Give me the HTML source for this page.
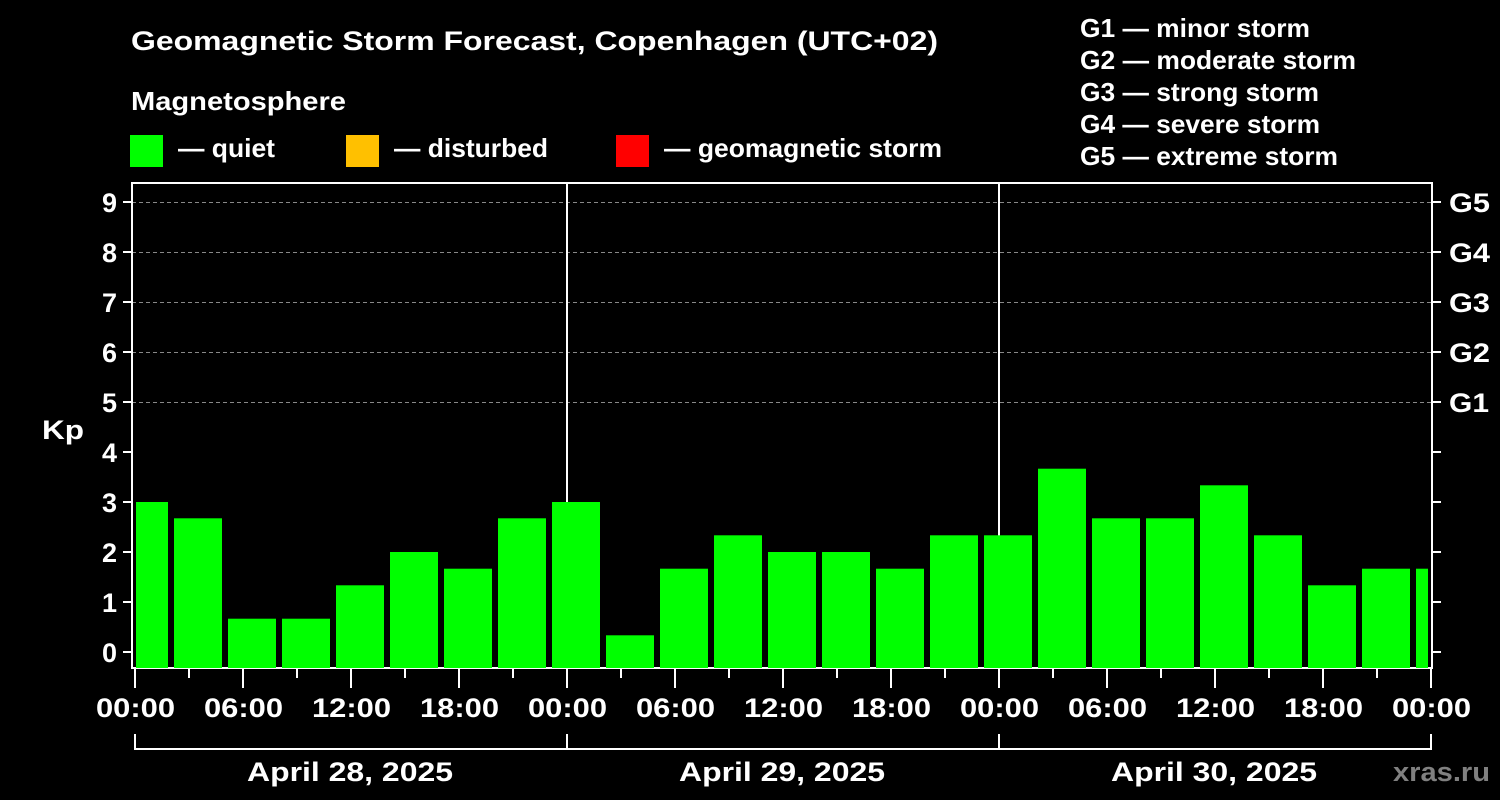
<!DOCTYPE html>
<html><head><meta charset="utf-8"><style>body{margin:0;background:#000}svg{display:block}text{font-family:"Liberation Sans",Arial,sans-serif;font-weight:bold;fill:#fff}</style></head><body>
<svg width="1500" height="800" xmlns="http://www.w3.org/2000/svg">
<rect width="1500" height="800" fill="#000"/>
<text x="131" y="50" font-size="27" textLength="807" lengthAdjust="spacingAndGlyphs">Geomagnetic Storm Forecast, Copenhagen (UTC+02)</text>
<text x="131" y="110" font-size="26" textLength="215" lengthAdjust="spacingAndGlyphs">Magnetosphere</text>
<rect x="130" y="135" width="33" height="32" fill="#00ff00"/>
<text x="178" y="157" font-size="26" textLength="97" lengthAdjust="spacingAndGlyphs">— quiet</text>
<rect x="346" y="135" width="33" height="32" fill="#ffc000"/>
<text x="394" y="157" font-size="26" textLength="154" lengthAdjust="spacingAndGlyphs">— disturbed</text>
<rect x="616" y="135" width="33" height="32" fill="#ff0000"/>
<text x="664" y="157" font-size="26" textLength="278" lengthAdjust="spacingAndGlyphs">— geomagnetic storm</text>
<g font-size="26">
<text x="1080" y="37" textLength="230" lengthAdjust="spacingAndGlyphs">G1 — minor storm</text>
<text x="1080" y="69" textLength="276" lengthAdjust="spacingAndGlyphs">G2 — moderate storm</text>
<text x="1080" y="101" textLength="239" lengthAdjust="spacingAndGlyphs">G3 — strong storm</text>
<text x="1080" y="133" textLength="240" lengthAdjust="spacingAndGlyphs">G4 — severe storm</text>
<text x="1080" y="165" textLength="258" lengthAdjust="spacingAndGlyphs">G5 — extreme storm</text>
</g>
<g stroke="#888" stroke-dasharray="4,3" stroke-width="1">
<line x1="132" x2="1432" y1="202.5" y2="202.5"/><line x1="132" x2="1432" y1="252.5" y2="252.5"/><line x1="132" x2="1432" y1="302.5" y2="302.5"/><line x1="132" x2="1432" y1="352.5" y2="352.5"/><line x1="132" x2="1432" y1="402.5" y2="402.5"/>
</g>
<g stroke="#fff" stroke-width="2" fill="none">
<rect x="132" y="183" width="1300" height="485"/>
<line x1="567" y1="183" x2="567" y2="668"/><line x1="999" y1="183" x2="999" y2="668"/>
<path d="M123 652h9M123 602h9M123 552h9M123 502h9M123 452h9M123 402h9M123 352h9M123 302h9M123 252h9M123 202h9"/>
<path d="M1432 652h9M1432 602h9M1432 552h9M1432 502h9M1432 452h9M1432 402h9M1432 352h9M1432 302h9M1432 252h9M1432 202h9"/>
<path d="M135 668v20M189 668v10M243 668v20M297 668v10M351 668v20M405 668v10M459 668v20M513 668v10M567 668v20M621 668v10M675 668v20M729 668v10M783 668v20M837 668v10M891 668v20M945 668v10M999 668v20M1053 668v10M1107 668v20M1161 668v10M1215 668v20M1269 668v10M1323 668v20M1377 668v10M1431 668v20"/>
<path d="M135 734v15h1296v-15M567 734v15M999 734v15"/>
</g>
<g fill="#00ff00">
<rect x="136" y="502" width="32" height="166"/>
<rect x="174" y="518.3" width="48" height="149.7"/>
<rect x="228" y="618.7" width="48" height="49.3"/>
<rect x="282" y="618.7" width="48" height="49.3"/>
<rect x="336" y="585.3" width="48" height="82.7"/>
<rect x="390" y="552" width="48" height="116"/>
<rect x="444" y="568.7" width="48" height="99.3"/>
<rect x="498" y="518.3" width="48" height="149.7"/>
<rect x="552" y="502" width="48" height="166"/>
<rect x="606" y="635.3" width="48" height="32.7"/>
<rect x="660" y="568.7" width="48" height="99.3"/>
<rect x="714" y="535.3" width="48" height="132.7"/>
<rect x="768" y="552" width="48" height="116"/>
<rect x="822" y="552" width="48" height="116"/>
<rect x="876" y="568.7" width="48" height="99.3"/>
<rect x="930" y="535.3" width="48" height="132.7"/>
<rect x="984" y="535.3" width="48" height="132.7"/>
<rect x="1038" y="468.7" width="48" height="199.3"/>
<rect x="1092" y="518.3" width="48" height="149.7"/>
<rect x="1146" y="518.3" width="48" height="149.7"/>
<rect x="1200" y="485.3" width="48" height="182.7"/>
<rect x="1254" y="535.3" width="48" height="132.7"/>
<rect x="1308" y="585.3" width="48" height="82.7"/>
<rect x="1362" y="568.7" width="48" height="99.3"/>
<rect x="1416" y="568.7" width="12" height="99.3"/>
</g>
<g font-size="27" text-anchor="end">
<text x="117" y="662">0</text><text x="117" y="612">1</text><text x="117" y="562">2</text><text x="117" y="512">3</text><text x="117" y="462">4</text><text x="117" y="412">5</text><text x="117" y="362">6</text><text x="117" y="312">7</text><text x="117" y="262">8</text><text x="117" y="212">9</text>
</g>
<text x="42" y="439" font-size="27" textLength="42" lengthAdjust="spacingAndGlyphs">Kp</text>
<g font-size="27">
<text x="1449" y="412" textLength="40" lengthAdjust="spacingAndGlyphs">G1</text><text x="1449" y="362" textLength="41" lengthAdjust="spacingAndGlyphs">G2</text><text x="1449" y="312" textLength="41" lengthAdjust="spacingAndGlyphs">G3</text><text x="1449" y="262" textLength="41" lengthAdjust="spacingAndGlyphs">G4</text><text x="1449" y="212" textLength="41" lengthAdjust="spacingAndGlyphs">G5</text>
</g>
<g font-size="27">
<text x="96" y="717" textLength="79" lengthAdjust="spacingAndGlyphs">00:00</text><text x="204" y="717" textLength="79" lengthAdjust="spacingAndGlyphs">06:00</text><text x="312" y="717" textLength="79" lengthAdjust="spacingAndGlyphs">12:00</text><text x="420" y="717" textLength="79" lengthAdjust="spacingAndGlyphs">18:00</text><text x="528" y="717" textLength="79" lengthAdjust="spacingAndGlyphs">00:00</text><text x="636" y="717" textLength="79" lengthAdjust="spacingAndGlyphs">06:00</text><text x="744" y="717" textLength="79" lengthAdjust="spacingAndGlyphs">12:00</text><text x="852" y="717" textLength="79" lengthAdjust="spacingAndGlyphs">18:00</text><text x="960" y="717" textLength="79" lengthAdjust="spacingAndGlyphs">00:00</text><text x="1068" y="717" textLength="79" lengthAdjust="spacingAndGlyphs">06:00</text><text x="1176" y="717" textLength="79" lengthAdjust="spacingAndGlyphs">12:00</text><text x="1284" y="717" textLength="79" lengthAdjust="spacingAndGlyphs">18:00</text><text x="1392" y="717" textLength="79" lengthAdjust="spacingAndGlyphs">00:00</text>
<text x="247" y="781" textLength="206" lengthAdjust="spacingAndGlyphs">April 28, 2025</text><text x="679" y="781" textLength="206" lengthAdjust="spacingAndGlyphs">April 29, 2025</text><text x="1111" y="781" textLength="206" lengthAdjust="spacingAndGlyphs">April 30, 2025</text>
</g>
<text x="1393" y="781" font-size="27" textLength="97" lengthAdjust="spacingAndGlyphs" style="fill:#808080">xras.ru</text>
</svg>
</body></html>
